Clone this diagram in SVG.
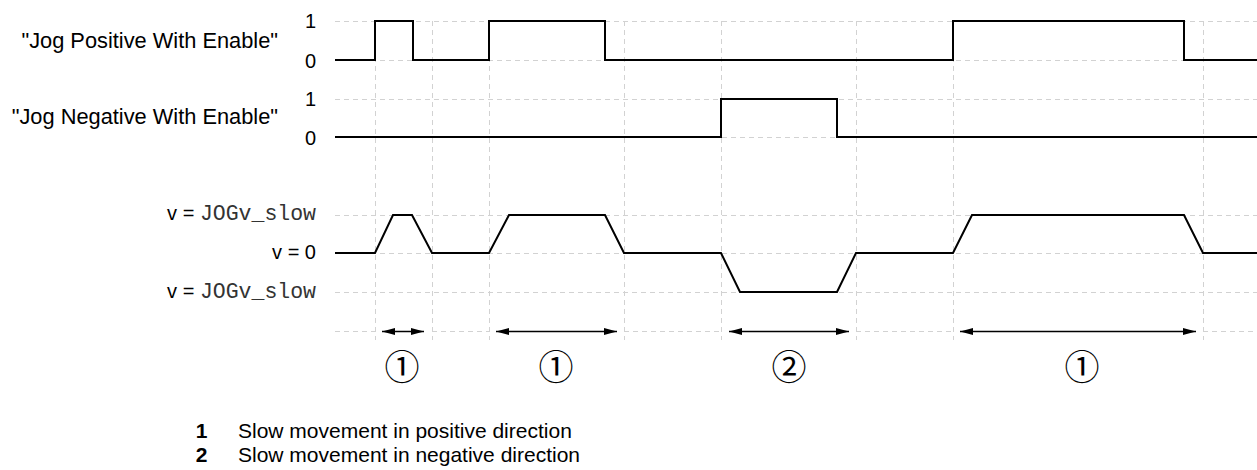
<svg xmlns="http://www.w3.org/2000/svg" width="1257" height="470" viewBox="0 0 1257 470">
<style>
.grid{stroke:#d2d2d2;stroke-width:1;stroke-dasharray:5 4;fill:none;shape-rendering:crispEdges}
.sig{stroke:#000;stroke-width:2;fill:none;stroke-linejoin:miter}
.lbl{font-family:"Liberation Sans",Arial,sans-serif;font-size:21.8px;fill:#000}
.lvl{font-family:"Liberation Sans",Arial,sans-serif;font-size:20px;fill:#000;text-anchor:middle}
.v{font-family:"Liberation Sans",Arial,sans-serif;font-size:20px;fill:#000;text-anchor:end}
.mono{font-family:"Liberation Mono","Courier New",monospace;font-size:21.5px;fill:#333}
.dim{stroke:#000;stroke-width:1.3;fill:none;marker-start:url(#ah);marker-end:url(#ah)}
.circ{font-family:"Noto Sans CJK JP","DejaVu Sans",sans-serif;font-size:35px;font-weight:400;fill:#000;text-anchor:middle}
.leg{font-family:"Liberation Sans",Arial,sans-serif;font-size:21px;fill:#000}
.legn{font-family:"Liberation Sans",Arial,sans-serif;font-size:21px;font-weight:bold;fill:#000;text-anchor:middle}
</style>
<defs>
<marker id="ah" markerUnits="userSpaceOnUse" markerWidth="14" markerHeight="8" refX="13" refY="3.5" orient="auto-start-reverse">
<path d="M0,0 L13,3.5 L0,7 z" fill="#000"/>
</marker>
</defs>
<g id="grid">
<path class="grid" d="M335,21.5H1257M335,60.5H1257M335,99.5H1257M335,137.5H1257M335,215.5H1257M335,253.5H1257M335,292.5H1257"/>
<path class="grid" d="M335,331.5H375M432,331.5H489M624,331.5H721M856,331.5H953M1203,331.5H1257"/>
<path class="grid" d="M375.5,21V340M432.5,21V340M489.5,21V340M624.5,21V340M721.5,21V340M856.5,21V340M953.5,21V340M1203.5,21V340"/>
</g>
<g id="signal-positive">
<text class="lbl" x="278" y="48" text-anchor="end">"Jog Positive With Enable"</text>
<text class="lvl" x="310.5" y="28">1</text>
<text class="lvl" x="310.5" y="68">0</text>
<path class="sig" d="M335,60H375V21H413V60H489V21H605V60H953V21H1184V60H1257"/>
</g>
<g id="signal-negative">
<text class="lbl" x="278" y="124" text-anchor="end">"Jog Negative With Enable"</text>
<text class="lvl" x="310.5" y="106">1</text>
<text class="lvl" x="310.5" y="145">0</text>
<path class="sig" d="M335,137H721V99H837V137H1257"/>
</g>
<g id="velocity">
<text class="v" x="316" y="220">v = <tspan class="mono">JOGv_slow</tspan></text>
<text class="v" x="316" y="259">v = 0</text>
<text class="v" x="316" y="298">v = <tspan class="mono">JOGv_slow</tspan></text>
<path class="sig" d="M335,253H375L393,215H412L432,253H489L509,215H605L624,253H721L740,292H837L856,253H953L972,215H1184L1203,253H1257"/>
</g>
<g id="connectors">
<path class="dim" d="M382,331.5H424"/>
<path class="dim" d="M496,331.5H617"/>
<path class="dim" d="M729,331.5H849"/>
<path class="dim" d="M960,331.5H1196"/>
</g>
<g id="callouts">
<text class="circ" x="402" y="380">①</text>
<text class="circ" x="556" y="380">①</text>
<text class="circ" x="789" y="380">②</text>
<text class="circ" x="1082" y="380">①</text>
</g>
<g id="legend">
<text class="legn" x="201.5" y="438">1</text>
<text class="leg" x="238" y="438">Slow movement in positive direction</text>
<text class="legn" x="201.5" y="462">2</text>
<text class="leg" x="238" y="462">Slow movement in negative direction</text>
</g>
</svg>
